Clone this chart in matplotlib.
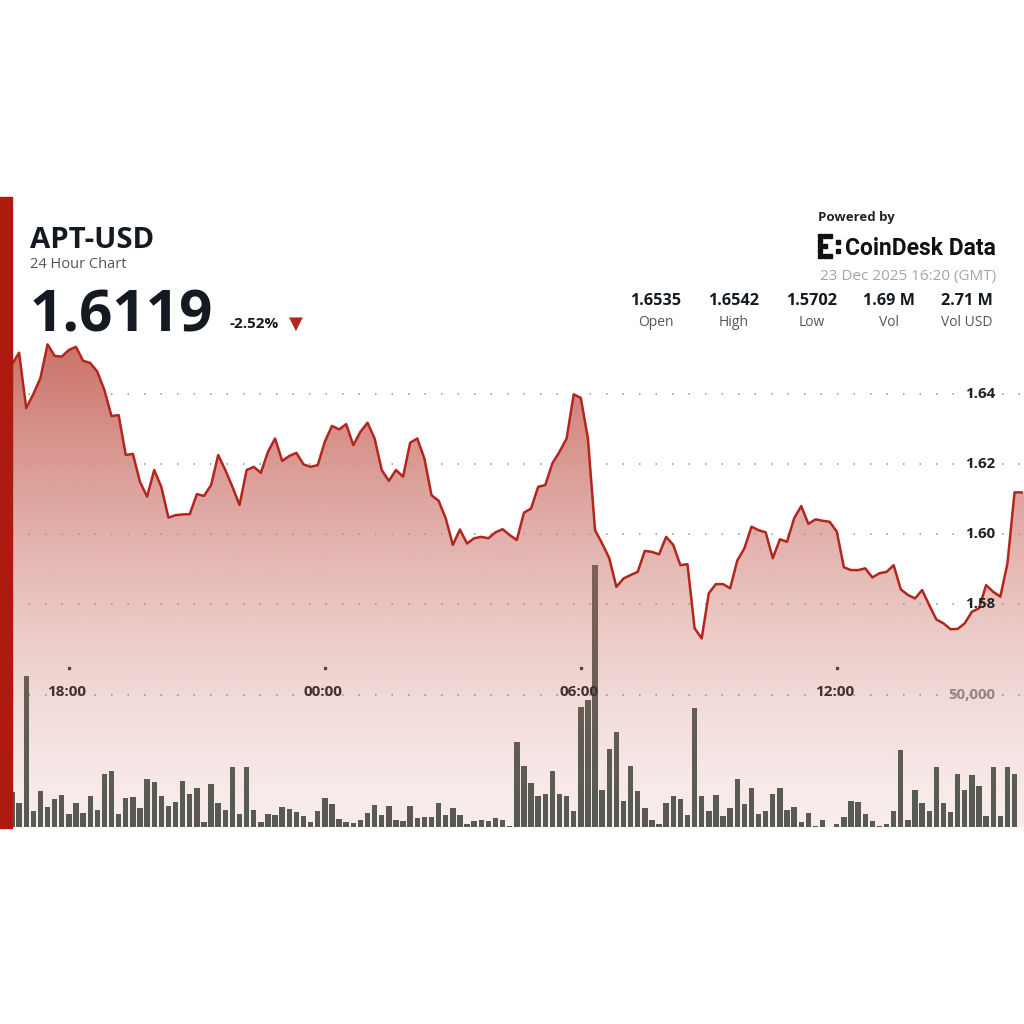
import numpy as np
import matplotlib
matplotlib.use('Agg')
import matplotlib.pyplot as plt
from matplotlib.patches import Rectangle, Polygon

plt.rcParams['font.family'] = ['Open Sans', 'DejaVu Sans']

# 10 minute candles, times in minutes from 00:00 on 23 Dec (first = 16:40 on 22 Dec)
start_min = -440
step_min = 10

price = [
    1.6485, 1.6518, 1.6360, 1.6400, 1.6446, 1.6542, 1.6509, 1.6507, 1.6526, 1.6535,
    1.6495, 1.6489, 1.6464, 1.6411, 1.6337, 1.6340, 1.6226, 1.6229, 1.6149, 1.6107,
    1.6183, 1.6135, 1.6047, 1.6054, 1.6056, 1.6057, 1.6114, 1.6109, 1.6140, 1.6226,
    1.6183, 1.6135, 1.6083, 1.6183, 1.6192, 1.6175, 1.6235, 1.6273, 1.6209, 1.6223,
    1.6232, 1.6199, 1.6192, 1.6197, 1.6264, 1.6309, 1.6299, 1.6314, 1.6254, 1.6292,
    1.6318, 1.6273, 1.6183, 1.6152, 1.6183, 1.6164, 1.6261, 1.6273, 1.6216, 1.6111,
    1.6095, 1.6045, 1.5969, 1.6013, 1.5973, 1.5988, 1.5992, 1.5988, 1.6005, 1.6014,
    1.5997, 1.5983, 1.6061, 1.6073, 1.6135, 1.6140, 1.6202, 1.6235, 1.6273, 1.6399,
    1.6389, 1.6273, 1.6011, 1.5973, 1.5931, 1.5849, 1.5873, 1.5883, 1.5892, 1.5952,
    1.5949, 1.5942, 1.5992, 1.5969, 1.5911, 1.5914, 1.5731, 1.5702, 1.5831, 1.5857,
    1.5857, 1.5845, 1.5924, 1.5959, 1.6021, 1.6011, 1.6005, 1.5931, 1.5985, 1.5978,
    1.6045, 1.6080, 1.6029, 1.6042, 1.6038, 1.6035, 1.6007, 1.5905, 1.5897, 1.5897,
    1.5902, 1.5876, 1.5888, 1.5892, 1.5911, 1.5842, 1.5826, 1.5816, 1.5840, 1.5797,
    1.5756, 1.5745, 1.5728, 1.5729, 1.5745, 1.5778, 1.5788, 1.5854, 1.5835, 1.5821,
    1.5916, 1.6119, 1.6119,
]

volume = [
    13300, 9100, 57200, 6100, 13600, 7500, 10500, 12100, 5000, 9000,
    5400, 11600, 6300, 20100, 21300, 5000, 10900, 11400, 7100, 18200,
    16900, 11900, 7800, 9600, 17400, 12400, 14700, 1900, 16400, 9000,
    6400, 22800, 4800, 22600, 6600, 1800, 5000, 4400, 7700, 6900,
    5600, 4300, 1900, 6200, 11100, 8700, 3100, 1900, 1500, 2800,
    5200, 8500, 4700, 7900, 2500, 2200, 8100, 3300, 3800, 3600,
    8900, 4400, 7100, 4700, 1300, 2400, 2700, 2200, 3400, 2500,
    200, 32200, 23000, 16800, 11700, 12500, 21100, 12400, 11800, 6100,
    45500, 48100, 99100, 14100, 29400, 36000, 10000, 23100, 13800, 7200,
    2800, 1300, 8900, 11900, 10500, 4700, 45200, 11600, 6000, 12200,
    4200, 7300, 18300, 8600, 14900, 5000, 6100, 12600, 14800, 6600,
    7700, 1900, 5400, 400, 2800, 100, 1100, 3800, 9800, 9300,
    4800, 2300, 500, 1100, 6000, 29100, 2800, 13900, 9200, 6100,
    22700, 9200, 5500, 20200, 14100, 19600, 15500, 4100, 22700, 4100,
    22700, 19900,
]

time_ticks = [-360, 0, 360, 720]
time_labels = ['18:00', '00:00', '06:00', '12:00']
price_ticks = [1.58, 1.60, 1.62, 1.64]
vol_tick = 50000

stat_values = ['1.6535', '1.6542', '1.5702', '1.69 M', '2.71 M']
stat_names = ['Open', 'High', 'Low', 'Vol', 'Vol USD']

t_price = start_min + step_min * np.arange(len(price))
t_vol = start_min + step_min * np.arange(len(volume))

RED = '#b3261e'
DARK = '#151a22'

fig = plt.figure(figsize=(10.24, 10.24), dpi=100)
fig.patch.set_facecolor('white')


def fx(px):
    return px / 1024.0


def fy(py):
    return 1 - py / 1024.0


x0, x1 = -440, 983.3
p_lo, p_hi = 1.5163, 1.6583

# volume axes (underneath)
ax = fig.add_axes([fx(12), fy(827), fx(1012), 497 / 1024.0])
ax.set_xlim(x0, x1)
ax.set_ylim(0, 188000)
ax.bar(t_vol, volume, width=7.6, color='#485a50', linewidth=0, zorder=2)
ax.axhline(vol_tick, color='#9a9a9a', lw=1.2, dashes=(0.9, 9), zorder=1)
ax.axis('off')

# price axes on top
axp = ax.twinx()
axp.set_xlim(x0, x1)
axp.set_ylim(p_lo, p_hi)
axp.axis('off')

t_end = t_price[-1] + 20
verts = np.column_stack([np.r_[t_price[0], t_price, t_end, t_end],
                         np.r_[p_lo, price, price[-1], p_lo]])
clip = Polygon(verts, closed=True, facecolor='none', edgecolor='none',
               transform=axp.transData)
axp.add_patch(clip)

rows = 500
f = np.linspace(1, 0, rows)            # 1 at top of axes, 0 at bottom
d = f * 497 / 467.0
alpha = np.clip(0.12 + 0.78 * d ** 1.4, 0, 1)
grad = np.zeros((rows, 1, 4))
grad[..., 0] = 200 / 255
grad[..., 1] = 105 / 255
grad[..., 2] = 95 / 255
grad[:, 0, 3] = alpha
im = axp.imshow(grad, extent=[x0, x1, p_lo, p_hi], aspect='auto',
                origin='upper', interpolation='bilinear', zorder=1)
im.set_clip_path(clip)
axp.set_xlim(x0, x1)
axp.set_ylim(p_lo, p_hi)

for p in price_ticks:
    axp.axhline(p, color='#9a9a9a', lw=1.2, dashes=(0.9, 9), zorder=2)
    axp.text(0.9713, p, f'{p:.2f}', transform=axp.get_yaxis_transform(),
             ha='right', va='center', fontsize=10.8, fontweight='bold',
             color='#222222', zorder=6)

axp.plot(t_price, price, color=RED, lw=1.8, zorder=4, solid_joinstyle='round')

ax.text(0.9713, vol_tick, f'{vol_tick:,}', transform=ax.get_yaxis_transform(),
        ha='right', va='center', fontsize=10.8, fontweight='bold', color='#8c8c8c')

tx = ax.get_xaxis_transform()
ax.plot(time_ticks, [0.32] * len(time_ticks), transform=tx, ls='none',
        marker='s', ms=1.8, color='#333333', zorder=5)
for t, lab in zip(time_ticks, time_labels):
    ax.text(t - 3, 0.2716, lab, transform=tx, ha='center', va='center',
            fontsize=11, fontweight='bold', color='#1a1a1a', zorder=5)

# left red card border
fig.add_artist(Rectangle((0, fy(828)), fx(12), 631 / 1024.0,
                         transform=fig.transFigure, color='#ad1a10', zorder=10))

# header, left
fig.text(fx(30), fy(248), 'APT-USD', fontsize=21.2, fontweight='bold', color=DARK,
         va='baseline')
fig.text(fx(30), fy(268), '24 Hour Chart', fontsize=10.5, color='#555555',
         va='baseline')
fig.text(fx(30), fy(331), '1.6119', fontsize=42, fontweight='bold', color=DARK,
         va='baseline')
fig.text(fx(229), fy(328), '-2.52%', fontsize=11, fontweight='bold', color=DARK,
         va='baseline')
fig.text(fx(295.5), fy(324), '\u25BC', fontsize=13, color=RED, ha='center',
         va='center', family='DejaVu Sans')

# header, right
fig.text(fx(818), fy(221), 'Powered by', fontsize=9.5, fontweight='bold',
         color='#222222', va='baseline')
for cx, cy in [(818, 234), (818, 239), (818, 244), (818, 249), (818, 254),
               (823, 234), (828, 234), (823, 254), (828, 254), (823, 244),
               (836, 240), (836, 249)]:
    fig.add_artist(Rectangle((fx(cx), fy(cy + 3.5)), fx(3.5), 3.5 / 1024.0,
                             transform=fig.transFigure, color='#111111'))
fig.text(fx(845), fy(255), 'CoinDesk Data', fontsize=16.5, fontweight='bold',
         color='#111111', va='baseline', family='Roboto')
fig.text(fx(996), fy(280), '23 Dec 2025 16:20 (GMT)', fontsize=11,
         color='#a5a5a5', ha='right', va='baseline')

for i, (v, n) in enumerate(zip(stat_values, stat_names)):
    cx = 656 + 77.7 * i
    fig.text(fx(cx), fy(305), v, fontsize=11.7, fontweight='bold', color=DARK,
             ha='center', va='baseline')
    fig.text(fx(cx), fy(326), n, fontsize=10, color='#555555', ha='center',
             va='baseline')

fig.savefig('out.png', dpi=100, facecolor='white')
